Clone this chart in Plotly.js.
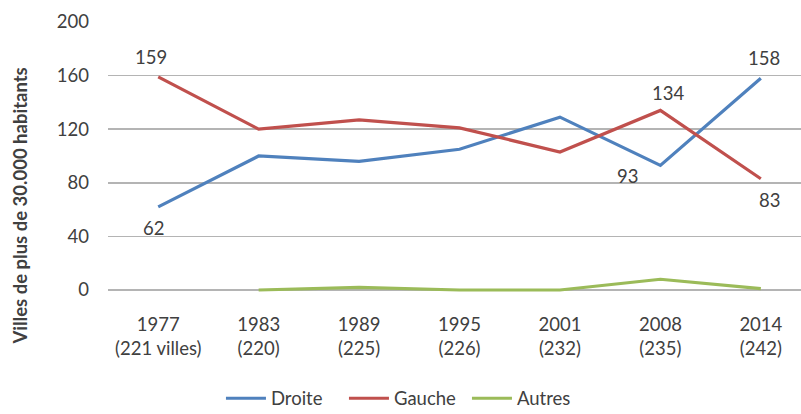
<!DOCTYPE html>
<html>
<head>
<meta charset="utf-8">
<script src="https://cdn.plot.ly/plotly-3.0.1.min.js"></script>
<style>html,body{margin:0;padding:0;background:#fff;}#chart{width:801px;height:414px;}</style>
</head>
<body>
<div id="chart"></div>
<script>
const categories = ["1977<br>(221 villes)", "1983<br>(220)", "1989<br>(225)", "1995<br>(226)", "2001<br>(232)", "2008<br>(235)", "2014<br>(242)"];
const droite = [62, 100, 96, 105, 129, 93, 158];
const gauche = [159, 120, 127, 121, 103, 134, 83];
const autres = [null, 0, 2, 0, 0, 8, 1];
const yTicks = [0, 40, 80, 120, 160, 200];

// labelled points: [series, index, xshift, yshift]
const labelSpecs = [
  [gauche, 0, -7, 20],
  [droite, 0, -5, -21],
  [gauche, 5, 8, 17],
  [droite, 5, -33, -11],
  [droite, 6, 3, 20],
  [gauche, 6, 9, -21]
];

const font = "Lato, 'Open Sans', sans-serif";
const txt = "#404040";

const traces = [
  {name: "Droite", y: droite, color: "#4f81bd"},
  {name: "Gauche", y: gauche, color: "#c0504d"},
  {name: "Autres", y: autres, color: "#9bbb59"}
].map(s => ({
  type: "scatter", mode: "lines", name: s.name,
  x: categories, y: s.y,
  line: {color: s.color, width: 3.2},
  connectgaps: false
}));

const annotations = labelSpecs.map(([arr, i, dx, dy]) => ({
  x: categories[i], y: arr[i], xref: "x", yref: "y",
  text: String(arr[i]), showarrow: false,
  xshift: dx, yshift: dy,
  font: {family: font, size: 18.5, color: txt}
}));
annotations.push({
  xref: "paper", yref: "paper", x: -0.127, y: 0.325,
  xanchor: "center", yanchor: "middle",
  text: "<b>Villes de plus de 30.000 habitants</b>",
  textangle: -90, showarrow: false,
  font: {family: font, size: 18.5, color: txt}
});

const layout = {
  width: 801, height: 414,
  margin: {l: 108, r: 0, t: 22, b: 120, autoexpand: false},
  paper_bgcolor: "#fff", plot_bgcolor: "#fff",
  showlegend: true,
  legend: {orientation: "h", x: 0.163, xanchor: "left", y: -0.385, yanchor: "middle",
           font: {family: font, size: 18.5, color: txt}, entrywidth: 68, entrywidthmode: "pixels",
           itemwidth: 40, tracegroupgap: 0},
  xaxis: {type: "category", range: [-0.5, 6.4], showgrid: false, zeroline: false,
          showline: false, ticks: "", ticklabelstandoff: 17, automargin: false,
          tickfont: {family: font, size: 18.5, color: txt}, fixedrange: true},
  yaxis: {range: [-3, 200], tickvals: yTicks, ticktext: yTicks.map(String),
          showgrid: true, gridcolor: "#b4b4b4", gridwidth: 1.6, zeroline: false,
          showline: false, ticks: "", ticklabelstandoff: 18, automargin: false,
          tickfont: {family: font, size: 18.5, color: txt}, fixedrange: true},
  annotations: annotations
};

Plotly.newPlot("chart", traces, layout, {displayModeBar: false, staticPlot: true});
</script>
</body>
</html>
